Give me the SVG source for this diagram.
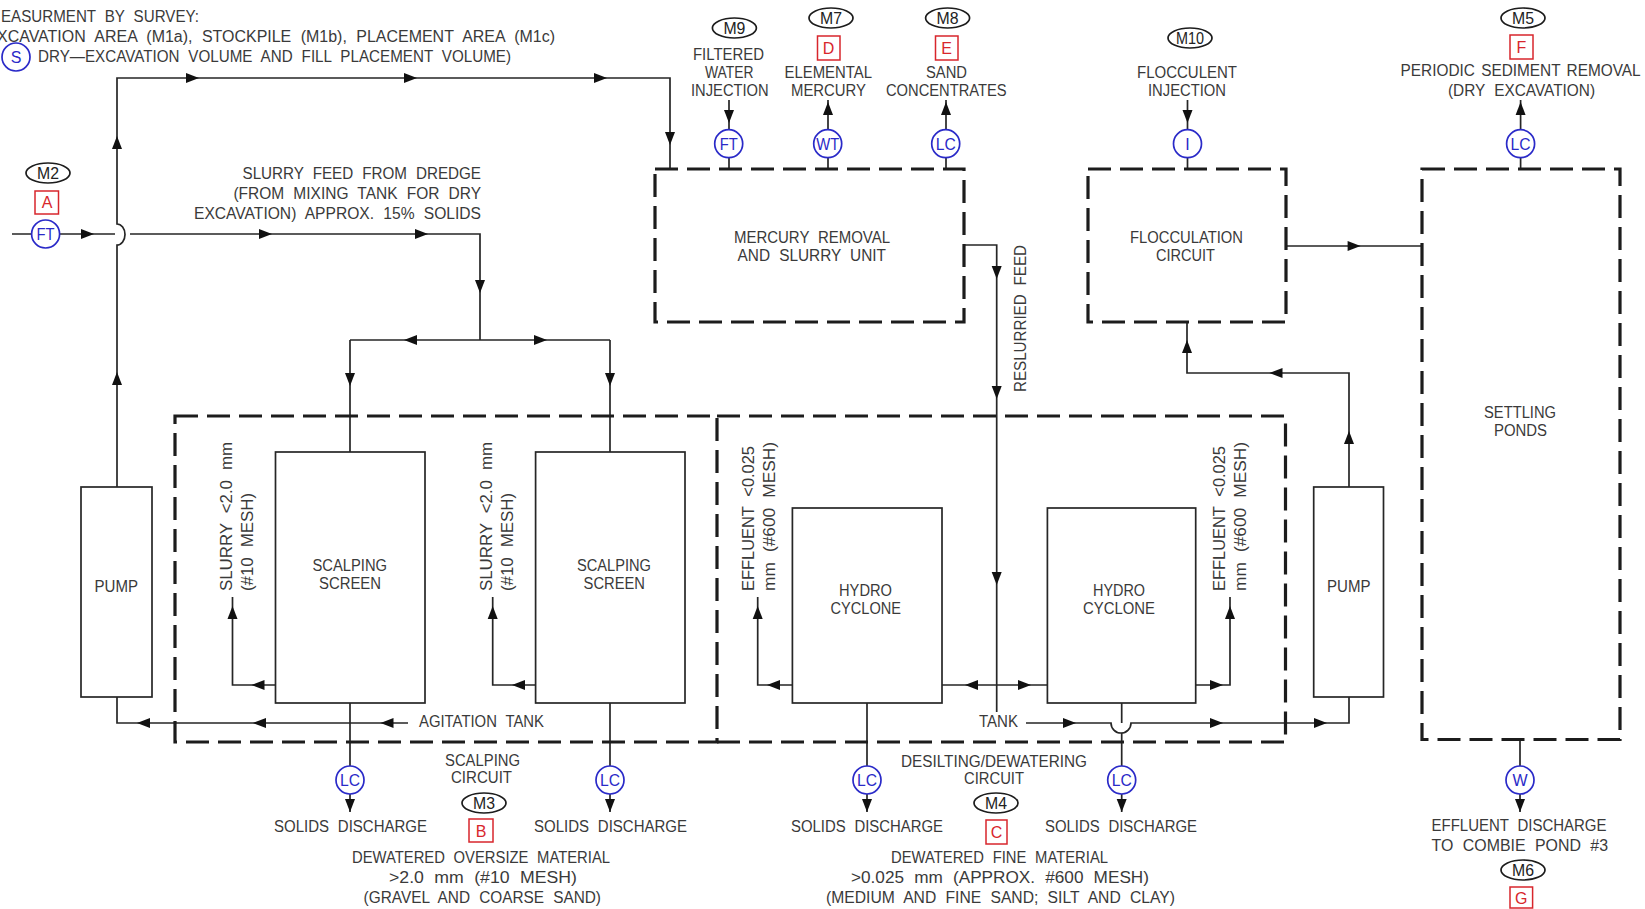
<svg xmlns="http://www.w3.org/2000/svg" width="1645" height="909" viewBox="0 0 1645 909">
<style>
text{font-family:"Liberation Sans",Arial,sans-serif;font-size:16px;fill:#3a3a3a;word-spacing:5px}
.ln{fill:none;stroke:#262626;stroke-width:1.7}
.box{fill:#fff;stroke:#262626;stroke-width:1.7}
.dash{fill:none;stroke:#1c1c1c;stroke-width:3.2;stroke-dasharray:23 9}
.ins{fill:#fff;stroke:#2a2ac8;stroke-width:1.7}
.inst{fill:#2a2ac8;text-anchor:middle;word-spacing:0}
.tag{fill:#fff;stroke:#d8262c;stroke-width:1.5}
.tagt{fill:#d8262c;text-anchor:middle;word-spacing:0}
.mon{fill:#fff;stroke:#1c1c1c;stroke-width:1.7}
.mont{fill:#222;text-anchor:middle;word-spacing:0}
</style>
<defs>
<path id="a" d="M0 0L-13 -5L-13 5Z" fill="#111"/>
</defs>
<rect width="1645" height="909" fill="#fff"/>
<g id="connectors">
<path class="ln" d="M12 234H115M130 234H480V340M117 487V245A8 10.500 0 0 0 117 224V78H670V169M350 340H610M350 340V452M610 340V452"/>
<path class="ln" d="M117 697V723H408M350 703V766M610 703V766M275 685H232.500V597M535 685H492.700V597"/>
<path class="ln" d="M964 245H996.700V712M792 685H757.700V597M942 685H1047M1196 685H1230V597M867 703V766M1121.700 703V723M1121.700 733V766M1026 723H1111A10 10 0 0 0 1131 723H1349V697"/>
<path class="ln" d="M1349 487V373H1187V322M1286 246H1422M1520 739V812M350 794V812M610 794V812M867 794V812M1121.700 794V812"/>
<path class="ln" d="M729 100V169M828 100V169M946 100V169M1187.500 100V169M1520.600 100V169"/>
<use href="#a" transform="translate(94 234)"/>
<use href="#a" transform="translate(272 234)"/>
<use href="#a" transform="translate(428 234)"/>
<use href="#a" transform="translate(199 78)"/>
<use href="#a" transform="translate(417 78)"/>
<use href="#a" transform="translate(607 78)"/>
<use href="#a" transform="translate(670 145) rotate(90)"/>
<use href="#a" transform="translate(117 136) rotate(-90)"/>
<use href="#a" transform="translate(117 372) rotate(-90)"/>
<use href="#a" transform="translate(480 293) rotate(90)"/>
<use href="#a" transform="translate(404 340) rotate(180)"/>
<use href="#a" transform="translate(547 340)"/>
<use href="#a" transform="translate(350 386) rotate(90)"/>
<use href="#a" transform="translate(610 386) rotate(90)"/>
<use href="#a" transform="translate(232.500 606) rotate(-90)"/>
<use href="#a" transform="translate(492.700 606) rotate(-90)"/>
<use href="#a" transform="translate(251.500 685) rotate(180)"/>
<use href="#a" transform="translate(512 685) rotate(180)"/>
<use href="#a" transform="translate(137 723) rotate(180)"/>
<use href="#a" transform="translate(253 723) rotate(180)"/>
<use href="#a" transform="translate(380.500 723) rotate(180)"/>
<use href="#a" transform="translate(350 812) rotate(90)"/>
<use href="#a" transform="translate(610 812) rotate(90)"/>
<use href="#a" transform="translate(867 812) rotate(90)"/>
<use href="#a" transform="translate(1121.700 812) rotate(90)"/>
<use href="#a" transform="translate(1520 812) rotate(90)"/>
<use href="#a" transform="translate(996.700 279) rotate(90)"/>
<use href="#a" transform="translate(996.700 399) rotate(90)"/>
<use href="#a" transform="translate(996.700 585) rotate(90)"/>
<use href="#a" transform="translate(757.700 606) rotate(-90)"/>
<use href="#a" transform="translate(1230 606) rotate(-90)"/>
<use href="#a" transform="translate(767 685) rotate(180)"/>
<use href="#a" transform="translate(965 685) rotate(180)"/>
<use href="#a" transform="translate(1031 685)"/>
<use href="#a" transform="translate(1223 685)"/>
<use href="#a" transform="translate(1076 723)"/>
<use href="#a" transform="translate(1223 723)"/>
<use href="#a" transform="translate(1327 723)"/>
<use href="#a" transform="translate(1349 431) rotate(-90)"/>
<use href="#a" transform="translate(1269.500 373) rotate(180)"/>
<use href="#a" transform="translate(1187 340) rotate(-90)"/>
<use href="#a" transform="translate(1360.600 246)"/>
<use href="#a" transform="translate(729 123) rotate(90)"/>
<use href="#a" transform="translate(828 102) rotate(-90)"/>
<use href="#a" transform="translate(946 102) rotate(-90)"/>
<use href="#a" transform="translate(1187.500 123) rotate(90)"/>
<use href="#a" transform="translate(1520.600 102) rotate(-90)"/>
</g>
<g id="note-survey">
<text x="1" y="22" textLength="198" lengthAdjust="spacingAndGlyphs">EASURMENT BY SURVEY:</text>
<text x="-3" y="42" textLength="558" lengthAdjust="spacingAndGlyphs">XCAVATION AREA (M1a), STOCKPILE (M1b), PLACEMENT AREA (M1c)</text>
<text x="38" y="62" textLength="473" lengthAdjust="spacingAndGlyphs">DRY—EXCAVATION VOLUME AND FILL PLACEMENT VOLUME)</text>
<circle class="ins" cx="16" cy="57" r="14"/><text class="inst" x="16" y="63">S</text>
</g>
<g id="note-slurry-feed">
<text x="242.500" y="179" textLength="238.500" lengthAdjust="spacingAndGlyphs">SLURRY FEED FROM DREDGE</text>
<text x="233.400" y="199" textLength="247.600" lengthAdjust="spacingAndGlyphs">(FROM MIXING TANK FOR DRY</text>
<text x="194" y="219" textLength="287" lengthAdjust="spacingAndGlyphs">EXCAVATION) APPROX. 15% SOLIDS</text>
</g>
<g id="m2-a-ft">
<ellipse class="mon" cx="48" cy="173" rx="22" ry="10"/><text class="mont" x="48" y="179" textLength="22" lengthAdjust="spacingAndGlyphs">M2</text>
<rect class="tag" x="35" y="191" width="23.500" height="23"/><text class="tagt" x="47" y="208">A</text>
<circle class="ins" cx="45.600" cy="234" r="14"/><text class="inst" x="45.600" y="240" textLength="18" lengthAdjust="spacingAndGlyphs">FT</text>
</g>
<g id="pump-1"><rect class="box" x="81" y="487" width="71" height="210"/><text x="94.500" y="592" textLength="43.500" lengthAdjust="spacingAndGlyphs">PUMP</text></g>
<g id="scalping-circuit">
<path class="dash" d="M175 416H717V742H175Z"/>
<text x="419" y="727" textLength="125" lengthAdjust="spacingAndGlyphs">AGITATION TANK</text>
<text x="445" y="766" textLength="75" lengthAdjust="spacingAndGlyphs">SCALPING</text>
<text x="451" y="783" textLength="61" lengthAdjust="spacingAndGlyphs">CIRCUIT</text>
</g>
<g id="scalping-screen-1">
<rect class="box" x="275.500" y="452" width="149.500" height="251"/>
<text x="312.500" y="571" textLength="74.500" lengthAdjust="spacingAndGlyphs">SCALPING</text>
<text x="319" y="589" textLength="62" lengthAdjust="spacingAndGlyphs">SCREEN</text>
<text transform="translate(232 591) rotate(-90)" textLength="149" lengthAdjust="spacingAndGlyphs">SLURRY &lt;2.0 mm</text>
<text transform="translate(253 591) rotate(-90)" textLength="98" lengthAdjust="spacingAndGlyphs">(#10 MESH)</text>
</g>
<g id="scalping-screen-2">
<rect class="box" x="535.600" y="452" width="149.400" height="251"/>
<text x="577" y="571" textLength="74" lengthAdjust="spacingAndGlyphs">SCALPING</text>
<text x="583.600" y="589" textLength="61.400" lengthAdjust="spacingAndGlyphs">SCREEN</text>
<text transform="translate(492 591) rotate(-90)" textLength="149" lengthAdjust="spacingAndGlyphs">SLURRY &lt;2.0 mm</text>
<text transform="translate(513 591) rotate(-90)" textLength="98" lengthAdjust="spacingAndGlyphs">(#10 MESH)</text>
</g>
<g id="desilting-circuit">
<path class="dash" d="M717 416H1285.500V742H717"/>
<text x="979" y="727" textLength="39" lengthAdjust="spacingAndGlyphs">TANK</text>
<text x="901" y="767" textLength="186" lengthAdjust="spacingAndGlyphs">DESILTING/DEWATERING</text>
<text x="964" y="784" textLength="60" lengthAdjust="spacingAndGlyphs">CIRCUIT</text>
</g>
<g id="hydrocyclone-1">
<rect class="box" x="792.400" y="508" width="149.600" height="195"/>
<text x="839" y="596" textLength="53" lengthAdjust="spacingAndGlyphs">HYDRO</text>
<text x="830.600" y="614" textLength="70.400" lengthAdjust="spacingAndGlyphs">CYCLONE</text>
<text transform="translate(754 591) rotate(-90)" textLength="145" lengthAdjust="spacingAndGlyphs">EFFLUENT &lt;0.025</text>
<text transform="translate(775 591) rotate(-90)" textLength="149" lengthAdjust="spacingAndGlyphs">mm (#600 MESH)</text>
</g>
<g id="hydrocyclone-2">
<rect class="box" x="1047.400" y="508" width="148.300" height="195"/>
<text x="1093" y="596" textLength="52" lengthAdjust="spacingAndGlyphs">HYDRO</text>
<text x="1083" y="614" textLength="72" lengthAdjust="spacingAndGlyphs">CYCLONE</text>
<text transform="translate(1225 591) rotate(-90)" textLength="145" lengthAdjust="spacingAndGlyphs">EFFLUENT &lt;0.025</text>
<text transform="translate(1246 591) rotate(-90)" textLength="149" lengthAdjust="spacingAndGlyphs">mm (#600 MESH)</text>
</g>
<g id="pump-2"><rect class="box" x="1313.700" y="487" width="69.800" height="210"/><text x="1327" y="592" textLength="43.500" lengthAdjust="spacingAndGlyphs">PUMP</text></g>
<g id="mercury-unit">
<path class="dash" d="M655 169H964V322H655Z"/>
<text x="734" y="243" textLength="156" lengthAdjust="spacingAndGlyphs">MERCURY REMOVAL</text>
<text x="737.600" y="261" textLength="148.400" lengthAdjust="spacingAndGlyphs">AND SLURRY UNIT</text>
</g>
<g id="flocculation-circuit">
<path class="dash" d="M1088 169H1286V322H1088Z"/>
<text x="1130" y="243" textLength="113" lengthAdjust="spacingAndGlyphs">FLOCCULATION</text>
<text x="1156" y="261" textLength="59" lengthAdjust="spacingAndGlyphs">CIRCUIT</text>
</g>
<g id="settling-ponds">
<path class="dash" d="M1422 169H1620V739.500H1422Z"/>
<text x="1484" y="418" textLength="72" lengthAdjust="spacingAndGlyphs">SETTLING</text>
<text x="1494" y="436" textLength="53" lengthAdjust="spacingAndGlyphs">PONDS</text>
</g>
<text transform="translate(1026 392) rotate(-90)" textLength="147" lengthAdjust="spacingAndGlyphs">RESLURRIED FEED</text>
<g id="m9-ft">
<ellipse class="mon" cx="734.400" cy="28" rx="22" ry="10"/><text class="mont" x="734.400" y="34" textLength="22" lengthAdjust="spacingAndGlyphs">M9</text>
<text x="693" y="60" textLength="71" lengthAdjust="spacingAndGlyphs">FILTERED</text>
<text x="705" y="78" textLength="48.500" lengthAdjust="spacingAndGlyphs">WATER</text>
<text x="691" y="96" textLength="77.700" lengthAdjust="spacingAndGlyphs">INJECTION</text>
<circle class="ins" cx="728.700" cy="143.700" r="14"/><text class="inst" x="728.700" y="149.500" textLength="18" lengthAdjust="spacingAndGlyphs">FT</text>
</g>
<g id="m7-d-wt">
<ellipse class="mon" cx="831" cy="18" rx="22" ry="10"/><text class="mont" x="831" y="24" textLength="22" lengthAdjust="spacingAndGlyphs">M7</text>
<rect class="tag" x="817.500" y="36" width="22.500" height="24"/><text class="tagt" x="828.500" y="54">D</text>
<text x="784.500" y="78" textLength="87.500" lengthAdjust="spacingAndGlyphs">ELEMENTAL</text>
<text x="791" y="96" textLength="75" lengthAdjust="spacingAndGlyphs">MERCURY</text>
<circle class="ins" cx="827.700" cy="143.700" r="14"/><text class="inst" x="827.700" y="149.500" textLength="23" lengthAdjust="spacingAndGlyphs">WT</text>
</g>
<g id="m8-e-lc">
<ellipse class="mon" cx="947.600" cy="18" rx="22" ry="10"/><text class="mont" x="947.600" y="24" textLength="22" lengthAdjust="spacingAndGlyphs">M8</text>
<rect class="tag" x="935.500" y="36" width="22.500" height="24"/><text class="tagt" x="946.700" y="54">E</text>
<text x="926" y="78" textLength="41" lengthAdjust="spacingAndGlyphs">SAND</text>
<text x="886" y="96" textLength="120.600" lengthAdjust="spacingAndGlyphs">CONCENTRATES</text>
<circle class="ins" cx="945.700" cy="143.700" r="14"/><text class="inst" x="945.700" y="149.500" textLength="20" lengthAdjust="spacingAndGlyphs">LC</text>
</g>
<g id="m10-i">
<ellipse class="mon" cx="1190" cy="38" rx="22" ry="10"/><text class="mont" x="1190" y="44" textLength="28" lengthAdjust="spacingAndGlyphs">M10</text>
<text x="1137" y="78" textLength="100" lengthAdjust="spacingAndGlyphs">FLOCCULENT</text>
<text x="1148" y="96" textLength="78" lengthAdjust="spacingAndGlyphs">INJECTION</text>
<circle class="ins" cx="1187.500" cy="143.700" r="14"/><text class="inst" x="1187.500" y="149.500">I</text>
</g>
<g id="m5-f-lc">
<ellipse class="mon" cx="1523" cy="18" rx="22" ry="10"/><text class="mont" x="1523" y="24" textLength="22" lengthAdjust="spacingAndGlyphs">M5</text>
<rect class="tag" x="1510" y="35" width="23" height="24"/><text class="tagt" x="1521.500" y="53">F</text>
<text x="1400.600" y="76" textLength="240" lengthAdjust="spacingAndGlyphs" style="word-spacing:2px">PERIODIC SEDIMENT REMOVAL</text>
<text x="1448" y="96" textLength="147" lengthAdjust="spacingAndGlyphs">(DRY EXCAVATION)</text>
<circle class="ins" cx="1520.600" cy="143.700" r="14"/><text class="inst" x="1520.600" y="149.500" textLength="20" lengthAdjust="spacingAndGlyphs">LC</text>
</g>
<g id="m3-b">
<circle class="ins" cx="350" cy="780" r="14"/><text class="inst" x="350" y="786" textLength="20" lengthAdjust="spacingAndGlyphs">LC</text>
<circle class="ins" cx="610" cy="780" r="14"/><text class="inst" x="610" y="786" textLength="20" lengthAdjust="spacingAndGlyphs">LC</text>
<text x="274" y="832" textLength="153" lengthAdjust="spacingAndGlyphs">SOLIDS DISCHARGE</text>
<text x="534" y="832" textLength="153" lengthAdjust="spacingAndGlyphs">SOLIDS DISCHARGE</text>
<ellipse class="mon" cx="484" cy="803" rx="22" ry="10"/><text class="mont" x="484" y="809" textLength="22" lengthAdjust="spacingAndGlyphs">M3</text>
<rect class="tag" x="469" y="819" width="24" height="23"/><text class="tagt" x="481" y="837">B</text>
<text x="352" y="863" textLength="258" lengthAdjust="spacingAndGlyphs">DEWATERED OVERSIZE MATERIAL</text>
<text x="389" y="883" textLength="188" lengthAdjust="spacingAndGlyphs">&gt;2.0 mm (#10 MESH)</text>
<text x="363.600" y="903" textLength="237.400" lengthAdjust="spacingAndGlyphs">(GRAVEL AND COARSE SAND)</text>
</g>
<g id="m4-c">
<circle class="ins" cx="867" cy="780" r="14"/><text class="inst" x="867" y="786" textLength="20" lengthAdjust="spacingAndGlyphs">LC</text>
<circle class="ins" cx="1121.700" cy="780" r="14"/><text class="inst" x="1121.700" y="786" textLength="20" lengthAdjust="spacingAndGlyphs">LC</text>
<text x="791" y="832" textLength="152" lengthAdjust="spacingAndGlyphs">SOLIDS DISCHARGE</text>
<text x="1045" y="832" textLength="152" lengthAdjust="spacingAndGlyphs">SOLIDS DISCHARGE</text>
<ellipse class="mon" cx="996" cy="803" rx="22" ry="10"/><text class="mont" x="996" y="809" textLength="22" lengthAdjust="spacingAndGlyphs">M4</text>
<rect class="tag" x="986" y="820" width="21" height="24"/><text class="tagt" x="996.500" y="838">C</text>
<text x="891" y="863" textLength="217" lengthAdjust="spacingAndGlyphs">DEWATERED FINE MATERIAL</text>
<text x="851" y="883" textLength="298" lengthAdjust="spacingAndGlyphs">&gt;0.025 mm (APPROX. #600 MESH)</text>
<text x="826" y="903" textLength="349" lengthAdjust="spacingAndGlyphs">(MEDIUM AND FINE SAND; SILT AND CLAY)</text>
</g>
<g id="m6-g-w">
<circle class="ins" cx="1520" cy="780" r="14"/><text class="inst" x="1520" y="786">W</text>
<text x="1431.600" y="831" textLength="174.900" lengthAdjust="spacingAndGlyphs">EFFLUENT DISCHARGE</text>
<text x="1431.600" y="851" textLength="176.400" lengthAdjust="spacingAndGlyphs">TO COMBIE POND #3</text>
<ellipse class="mon" cx="1523" cy="870" rx="22" ry="10"/><text class="mont" x="1523" y="876" textLength="22" lengthAdjust="spacingAndGlyphs">M6</text>
<rect class="tag" x="1510" y="887" width="22.600" height="21"/><text class="tagt" x="1521.300" y="904">G</text>
</g>
</svg>
